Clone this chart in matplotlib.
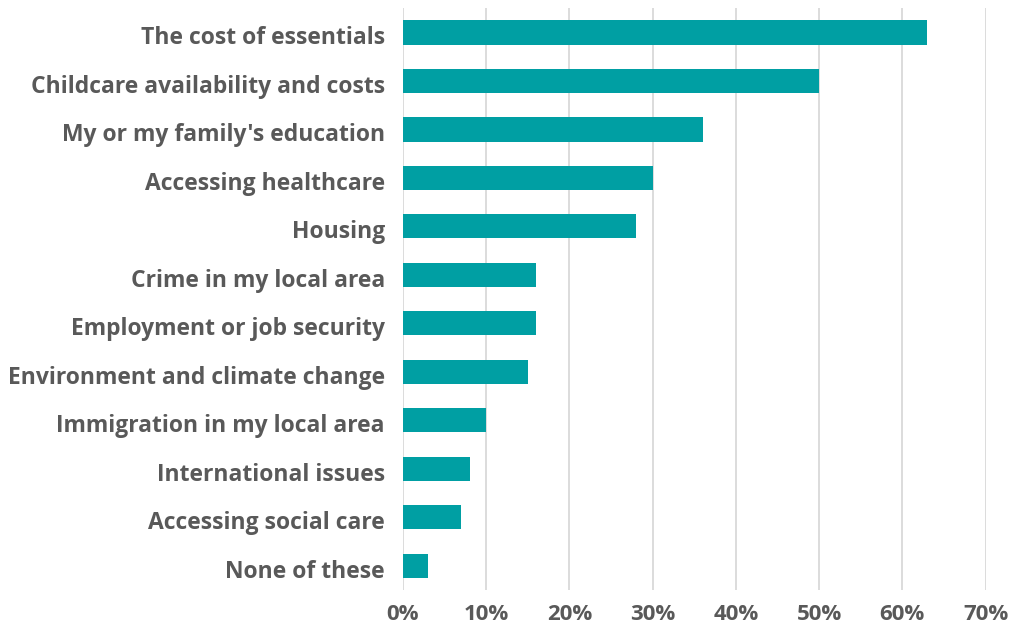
import matplotlib
matplotlib.use('Agg')
import matplotlib.pyplot as plt
from matplotlib.ticker import FuncFormatter
from matplotlib.transforms import ScaledTranslation

categories = [
    'The cost of essentials',
    'Childcare availability and costs',
    "My or my family's education",
    'Accessing healthcare',
    'Housing',
    'Crime in my local area',
    'Employment or job security',
    'Environment and climate change',
    'Immigration in my local area',
    'International issues',
    'Accessing social care',
    'None of these',
]
shares = [63, 50, 36, 30, 28, 16, 16, 15, 10, 8, 7, 3]
x_ticks = [0, 10, 20, 30, 40, 50, 60, 70]

teal = '#009FA3'
text_grey = '#595959'

plt.rcParams['font.family'] = ['Open Sans', 'DejaVu Sans']

fig = plt.figure(figsize=(10.15, 6.29), dpi=100)
ax = fig.add_axes([0.397, 0.062, 0.574, 0.925])

y_pos = list(range(len(categories)))
ax.barh(y_pos, shares, height=0.5, color=teal, zorder=3)

ax.set_ylim(len(categories) - 0.5, -0.5)
ax.set_xlim(0, 70)
ax.set_xticks(x_ticks)
ax.xaxis.set_major_formatter(FuncFormatter(lambda v, p: f'{v:.0f}%'))
ax.set_yticks(y_pos)
ax.set_yticklabels(categories)

ax.grid(axis='x', color='#d9d9d9', linewidth=1.3, zorder=0)
for side in ['top', 'right', 'bottom', 'left']:
    ax.spines[side].set_visible(False)
ax.tick_params(axis='both', length=0, labelcolor=text_grey)
ax.tick_params(axis='y', pad=13, labelsize=16.5)
ax.tick_params(axis='x', pad=10, labelsize=16)
for lab in ax.get_xticklabels() + ax.get_yticklabels():
    lab.set_fontweight('bold')

# nudge the category labels down a touch
shift = ScaledTranslation(0, -2 / 72, fig.dpi_scale_trans)
for lab in ax.get_yticklabels():
    lab.set_transform(lab.get_transform() + shift)

fig.savefig('out.png', dpi=100)
